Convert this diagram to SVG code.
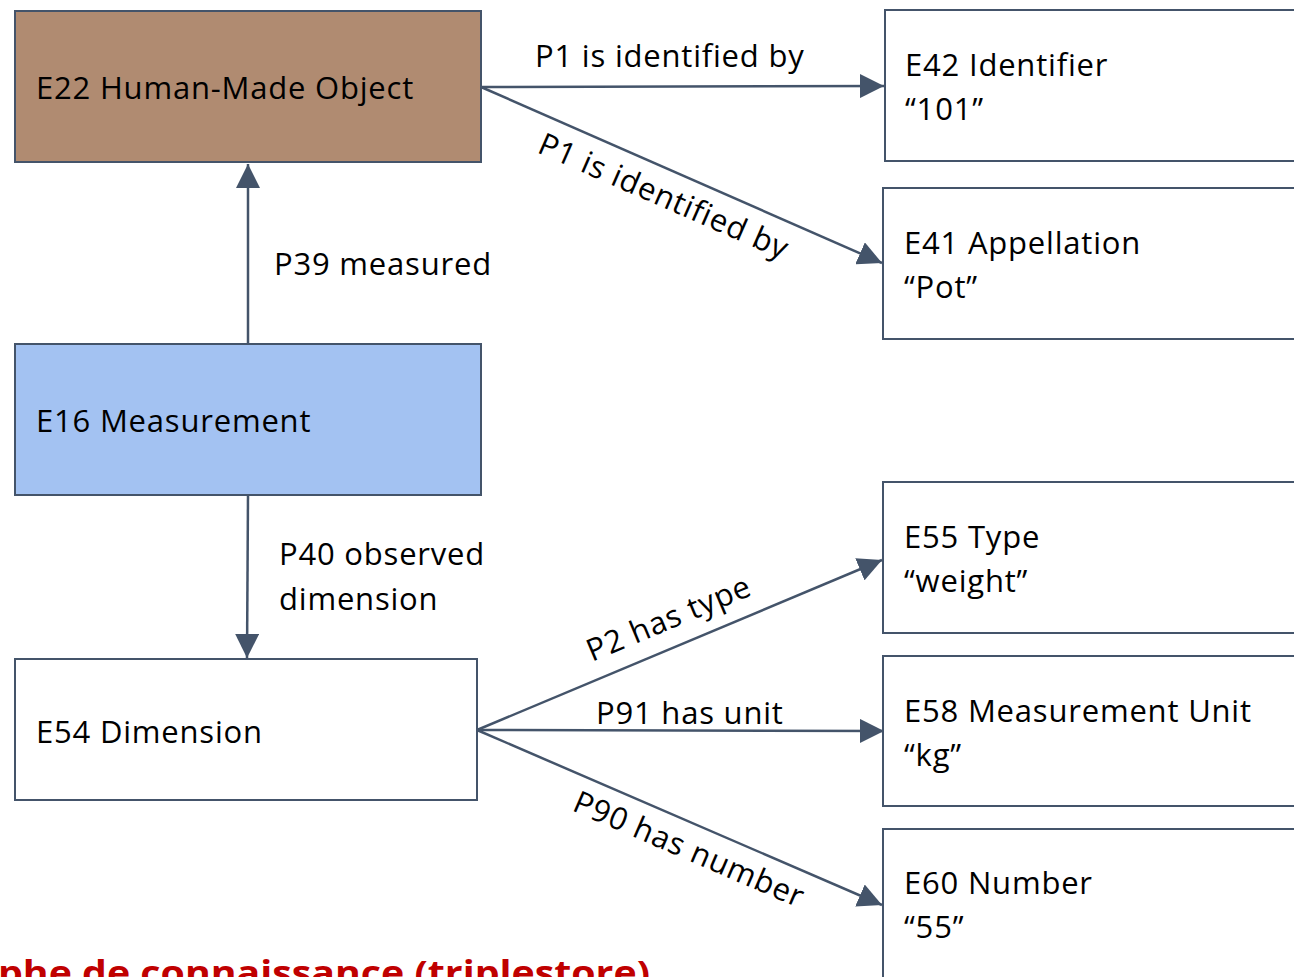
<svg xmlns="http://www.w3.org/2000/svg" width="1294" height="977" viewBox="0 0 1294 977">
<style>
.box{stroke:#44546a;stroke-width:2;}
.t{font-family:"Open Sans","Liberation Sans",sans-serif;font-size:31px;letter-spacing:0.8px;fill:#000;}
.c{stroke:#44546a;stroke-width:2.5;fill:none;marker-end:url(#ah);}
.red{font-family:"Open Sans","Liberation Sans",sans-serif;font-size:34px;font-weight:bold;fill:#c00000;}
</style>
<defs>
<marker id="ah" markerUnits="userSpaceOnUse" markerWidth="26" markerHeight="24" refX="24" refY="12" orient="auto">
<path d="M0,0 L24,12 L0,24 Z" fill="#44546a"/>
</marker>
</defs>
<rect width="1294" height="977" fill="#fff"/>
<g id="connectors">
<line class="c" x1="481" y1="87" x2="884" y2="86"/>
<line class="c" x1="481" y1="87" x2="882" y2="263"/>
<line class="c" x1="248" y1="344" x2="248" y2="164"/>
<line class="c" x1="248" y1="495" x2="247" y2="658"/>
<line class="c" x1="477" y1="730" x2="882" y2="560"/>
<line class="c" x1="477" y1="730" x2="884" y2="731"/>
<line class="c" x1="477" y1="730" x2="882" y2="905"/>
<text class="t" x="535" y="67">P1 is identified by</text>
<text class="t" transform="translate(536,152) rotate(23.6)">P1 is identified by</text>
<text class="t" x="274" y="275">P39 measured</text>
<text class="t" x="279" y="565">P40 observed</text>
<text class="t" x="279" y="610">dimension</text>
<text class="t" transform="translate(592,662) rotate(-22.7)">P2 has type</text>
<text class="t" x="596" y="724">P91 has unit</text>
<text class="t" transform="translate(571,810) rotate(23.3)">P90 has number</text>
</g>
<g id="e22"><rect class="box" x="15" y="11" width="466" height="151" fill="#b08b71"/><text class="t" x="36" y="99">E22 Human-Made Object</text></g>
<g id="e16"><rect class="box" x="15" y="344" width="466" height="151" fill="#a3c2f2"/><text class="t" x="36" y="432">E16 Measurement</text></g>
<g id="e54"><rect class="box" x="15" y="659" width="462" height="141" fill="#fff"/><text class="t" x="36" y="743">E54 Dimension</text></g>
<g id="e42"><rect class="box" x="885" y="10" width="420" height="151" fill="#fff"/><text class="t" x="905" y="76">E42 Identifier</text><text class="t" x="905" y="120">“101”</text></g>
<g id="e41"><rect class="box" x="883" y="188" width="420" height="151" fill="#fff"/><text class="t" x="904" y="254">E41 Appellation</text><text class="t" x="904" y="298">“Pot”</text></g>
<g id="e55"><rect class="box" x="883" y="482" width="420" height="151" fill="#fff"/><text class="t" x="904" y="548">E55 Type</text><text class="t" x="904" y="592">“weight”</text></g>
<g id="e58"><rect class="box" x="883" y="656" width="420" height="150" fill="#fff"/><text class="t" x="904" y="722">E58 Measurement Unit</text><text class="t" x="904" y="766">“kg”</text></g>
<g id="e60"><rect class="box" x="883" y="829" width="420" height="160" fill="#fff"/><text class="t" x="904" y="894">E60 Number</text><text class="t" x="904" y="938">“55”</text></g>
<text class="red" x="-2" y="985" textLength="652" lengthAdjust="spacingAndGlyphs">phe de connaissance (triplestore)</text>
</svg>
